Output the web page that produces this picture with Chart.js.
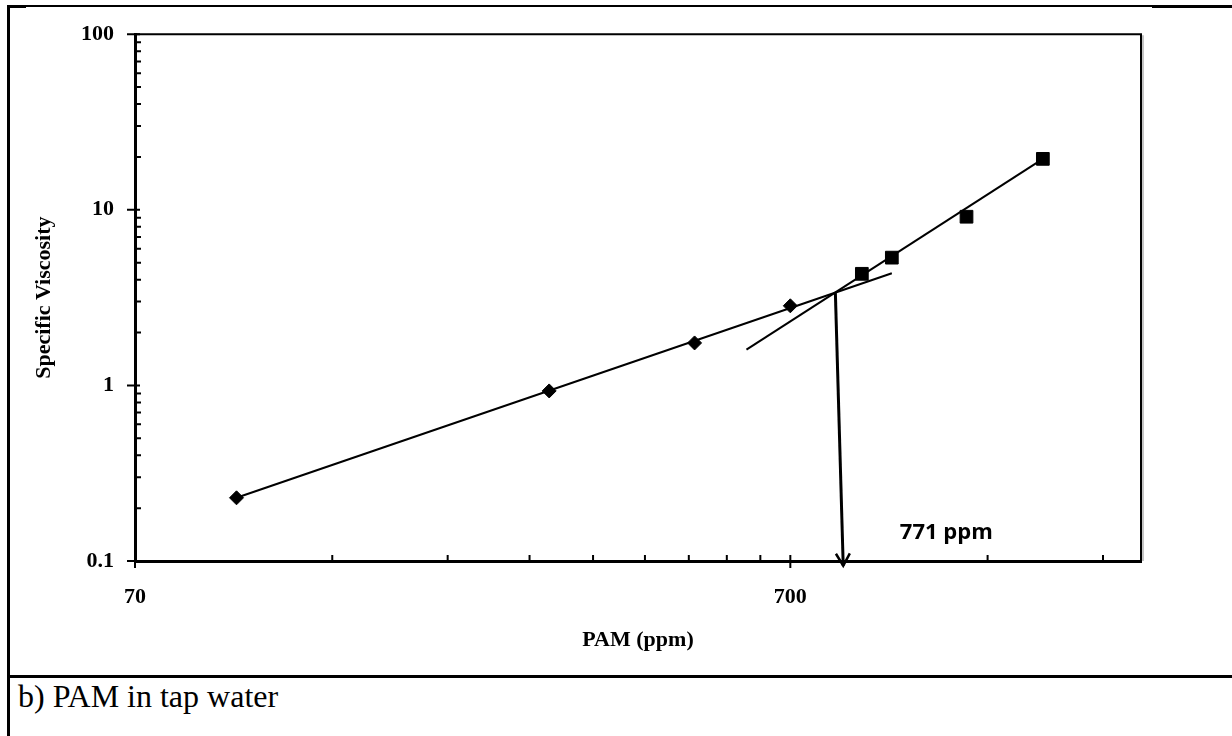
<!DOCTYPE html>
<html>
<head>
<meta charset="utf-8">
<script src="https://cdn.jsdelivr.net/npm/chart.js@4/dist/chart.umd.min.js"></script>
<style>
  html, body { margin: 0; padding: 0; background: #fff; }
  body { width: 1232px; height: 736px; position: relative; overflow: hidden; }
  #myChart { position: absolute; left: 0; top: 0; }
  .rule { position: absolute; background: #000; }
  #caption {
    position: absolute; left: 18px; top: 678px;
    font-family: "Liberation Serif", "Times New Roman", serif;
    font-size: 32px; line-height: 37px; color: #000;
  }
</style>
</head>
<body>
<div class="rule" style="left:7px; top:5px; width:1225px; height:2px;"></div>
<div class="rule" style="left:7px; top:5px; width:19px; height:3px;"></div>
<div class="rule" style="left:1152px; top:5px; width:80px; height:3px;"></div>
<div class="rule" style="left:7px; top:5px; width:3px; height:731px;"></div>
<div class="rule" style="left:7px; top:675px; width:1225px; height:3px;"></div>
<canvas id="myChart" width="1232" height="670"></canvas>
<div id="caption">b) PAM in tap water</div>

<script>
// PAM concentration (ppm) and specific viscosity
let diluteX = [100, 300, 500, 700]
let diluteY = [0.229, 0.93, 1.745, 2.84]
let semiX = [900, 1000, 1300, 1700]
let semiY = [4.32, 5.34, 9.13, 19.5]

// fitted lines and the arrow to the crossover
let fit1X = [100, 1000]
let fit1Y = [0.229, 4.35]
let fit2X = [600, 1700]
let fit2Y = [1.6, 19.5]
let arrowX = [820, 843]
let arrowY = [3.38, 0.094]

let xTicks = [70, 700]
let yTicks = [0.1, 1, 10, 100]
let xMinor = [140, 210, 280, 350, 420, 490, 560, 630, 1400, 2100]
let yMinor = [0.2, 0.3, 0.4, 0.5, 0.6, 0.7, 0.8, 0.9, 2, 3, 4, 5, 6, 7, 8, 9, 20, 30, 40, 50, 60, 70, 80, 90]

function pairs(xs, ys) {
    let out = []
    for (let i = 0; i < xs.length; i++) {
        out[i] = {x: xs[i], y: ys[i]}
    }
    return out
}

const serif = '"Liberation Serif", "Times New Roman", serif'

const axisMarks = {
    id: 'axisMarks',
    afterDraw(chart) {
        const {ctx, chartArea: a, scales: {x, y}} = chart
        ctx.save()
        // plot frame, top and right
        ctx.strokeStyle = '#000'
        ctx.lineWidth = 2
        ctx.beginPath()
        ctx.moveTo(a.left, a.top)
        ctx.lineTo(a.right, a.top)
        ctx.lineTo(a.right, a.bottom)
        ctx.stroke()
        ctx.strokeStyle = '#b0b0b0'
        ctx.lineWidth = 1.5
        ctx.beginPath()
        ctx.moveTo(a.right + 2, a.top + 1)
        ctx.lineTo(a.right + 2, a.bottom)
        ctx.stroke()

        // tick marks
        ctx.strokeStyle = '#000'
        ctx.lineWidth = 2
        ctx.beginPath()
        yTicks.forEach(v => {
            let py = y.getPixelForValue(v)
            ctx.moveTo(a.left - 8, py)
            ctx.lineTo(a.left + 5, py)
        })
        yMinor.forEach(v => {
            let py = y.getPixelForValue(v)
            ctx.moveTo(a.left, py)
            ctx.lineTo(a.left + 6, py)
        })
        xTicks.forEach(v => {
            let px = x.getPixelForValue(v)
            ctx.moveTo(px, a.bottom + 7)
            ctx.lineTo(px, a.bottom - 6)
        })
        xMinor.forEach(v => {
            let px = x.getPixelForValue(v)
            ctx.moveTo(px, a.bottom)
            ctx.lineTo(px, a.bottom - 6)
        })
        ctx.stroke()

        // arrow head
        const pts = chart.getDatasetMeta(4).data
        const p0 = pts[0], p1 = pts[1]
        const ang = Math.atan2(p1.y - p0.y, p1.x - p0.x)
        const len = 14, spread = 0.52
        ctx.lineWidth = 2.5
        ctx.beginPath()
        ctx.moveTo(p1.x - len * Math.cos(ang - spread), p1.y - len * Math.sin(ang - spread))
        ctx.lineTo(p1.x, p1.y)
        ctx.lineTo(p1.x - len * Math.cos(ang + spread), p1.y - len * Math.sin(ang + spread))
        ctx.stroke()

        // crossover label
        ctx.fillStyle = '#000'
        ctx.font = 'bold 22px "Open Sans", "Liberation Sans", sans-serif'
        ctx.textAlign = 'center'
        ctx.textBaseline = 'middle'
        ctx.fillText('771 ppm', x.getPixelForValue(1211), y.getPixelForValue(0.145))
        ctx.restore()
    }
}

var ctx1 = document.getElementById("myChart")

new Chart(ctx1, {
    type: 'scatter',
    data: {
        datasets: [{
            label: 'Dilute',
            data: pairs(diluteX, diluteY),
            pointStyle: 'rectRot',
            pointRadius: 7,
            backgroundColor: '#000',
            borderColor: '#000',
            borderWidth: 1
        }, {
            label: 'Semi-dilute',
            data: pairs(semiX, semiY),
            pointStyle: 'rect',
            pointRadius: 9,
            backgroundColor: '#000',
            borderColor: '#000',
            borderWidth: 1
        }, {
            label: 'Fit 1',
            data: pairs(fit1X, fit1Y),
            showLine: true,
            pointRadius: 0,
            borderColor: '#000',
            borderWidth: 2
        }, {
            label: 'Fit 2',
            data: pairs(fit2X, fit2Y),
            showLine: true,
            pointRadius: 0,
            borderColor: '#000',
            borderWidth: 2
        }, {
            label: 'Arrow',
            data: pairs(arrowX, arrowY),
            showLine: true,
            pointRadius: 0,
            borderColor: '#000',
            borderWidth: 3,
            clip: false
        }]
    },
    options: {
        responsive: false,
        animation: false,
        events: [],
        layout: {
            padding: {top: 32, right: 91, left: 0, bottom: 0}
        },
        plugins: {
            legend: {display: false},
            tooltip: {enabled: false}
        },
        scales: {
            x: {
                type: 'logarithmic',
                min: 70,
                max: 2400,
                afterBuildTicks: s => { s.ticks = xTicks.map(v => ({value: v})) },
                afterFit: s => { s.height = 109 },
                grid: {display: false, drawTicks: false},
                border: {display: true, color: '#000', width: 3},
                ticks: {
                    autoSkip: false,
                    maxRotation: 0,
                    padding: 23,
                    color: '#000',
                    font: {family: serif, size: 22, weight: 'bold'},
                    callback: v => String(v)
                },
                title: {
                    display: true,
                    text: 'PAM (ppm)',
                    color: '#000',
                    font: {family: serif, size: 22, weight: 'bold'},
                    padding: {top: 0, bottom: 16}
                }
            },
            y: {
                type: 'logarithmic',
                min: 0.1,
                max: 100,
                afterBuildTicks: s => { s.ticks = yTicks.map(v => ({value: v})) },
                afterFit: s => { s.width = 135 },
                grid: {display: false, drawTicks: false},
                border: {display: true, color: '#000', width: 3},
                ticks: {
                    autoSkip: false,
                    padding: 21,
                    color: '#000',
                    font: {family: serif, size: 22, weight: 'bold'},
                    callback: v => String(v)
                },
                title: {
                    display: true,
                    text: 'Specific Viscosity',
                    color: '#000',
                    font: {family: serif, size: 22, weight: 'bold'},
                    padding: {top: 31, bottom: 0}
                }
            }
        }
    },
    plugins: [axisMarks]
})
</script>
</body>
</html>
